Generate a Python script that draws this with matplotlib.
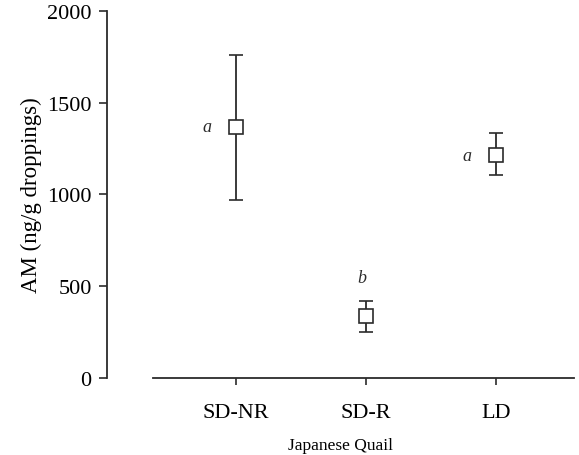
import numpy as np
import matplotlib
matplotlib.use('Agg')
import matplotlib.pyplot as plt

# Значення
groups = ["SD-NR", "SD-R", "LD"]
means = [1368, 338, 1215]
upper = [1762, 421, 1337]
lower = [970, 250, 1105]
letters = ["a", "b", "a"]
letter_y = [1368, 545, 1215]
letter_dx = [-0.22, -0.03, -0.22]

plt.rcParams['font.family'] = ['Liberation Serif', 'DejaVu Serif']

x = np.arange(len(groups))
m = np.array(means)
yerr = np.vstack([m - np.array(lower), np.array(upper) - m])

fig = plt.figure(figsize=(5.79, 4.56), dpi=100)
ax = fig.add_axes([0.1848, 0.1689, 0.8066, 0.8048])

ink = "#2b2b2b"
ax.errorbar(x, m, yerr=yerr, fmt='s', color=ink, ecolor=ink,
            markerfacecolor='white', markeredgecolor=ink, markersize=10,
            markeredgewidth=1.2, elinewidth=1.3, capsize=5, capthick=1.3)

for xi, yi, lab, dx in zip(x, letter_y, letters, letter_dx):
    ax.text(xi + dx, yi, lab, style='italic', fontsize=13, ha='center',
            va='center', color=ink)

ax.set_xlim(-0.992, 2.6)
ax.set_ylim(0, 2000)
ax.set_yticks([0, 500, 1000, 1500, 2000])
ax.set_xticks(x)
ax.set_xticklabels(groups, fontsize=16)
ax.tick_params(axis='y', labelsize=16, length=6, width=1.2, color=ink, pad=5)
ax.tick_params(axis='x', length=5, width=1.2, color=ink, pad=13)

for s in ("top", "right"):
    ax.spines[s].set_visible(False)
for s in ("left", "bottom"):
    ax.spines[s].set_linewidth(1.3)
    ax.spines[s].set_color(ink)
ax.spines["bottom"].set_bounds(-0.64, 2.6)

ax.set_ylabel("AM (ng/g droppings)", fontsize=16.5, labelpad=4)
ax.set_xlabel("Japanese Quail", fontsize=12.5, labelpad=11)

fig.savefig("out.png", dpi=100)
